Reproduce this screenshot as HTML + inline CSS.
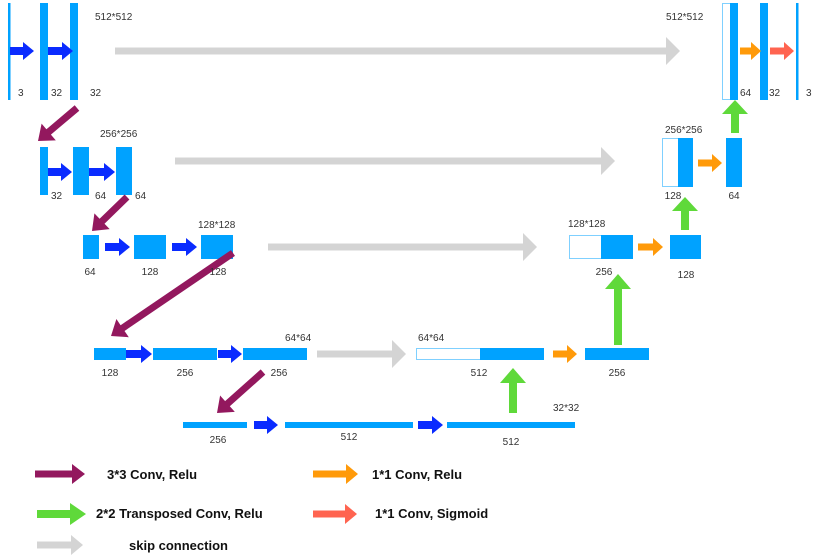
<!DOCTYPE html>
<html><head><meta charset="utf-8"><style>
html,body{margin:0;padding:0;background:#fff;}
svg{display:block;}
text{font-family:"Liberation Sans",sans-serif;fill:#333;font-size:10px;}
.t{font-size:10px;}
.l{font-size:13px;font-weight:bold;fill:#111;}
</style></head><body>
<svg id="s" width="815" height="558" viewBox="0 0 815 558" xmlns="http://www.w3.org/2000/svg">
<g id="boxes" fill="#00a2ff">
<!-- row1 -->
<rect x="8" y="3" width="2.5" height="97"/>
<rect x="40" y="3" width="8" height="97"/>
<rect x="70" y="3" width="8" height="97"/>
<rect x="722.5" y="3.5" width="8" height="96" fill="#fff" stroke="#7fd0ff" stroke-width="1"/>
<rect x="730" y="3" width="8" height="97"/>
<rect x="760" y="3" width="8" height="97"/>
<rect x="796" y="3" width="2.5" height="97"/>
<!-- row2 -->
<rect x="40" y="147" width="8" height="48"/>
<rect x="73" y="147" width="16" height="48"/>
<rect x="116" y="147" width="16" height="48"/>
<rect x="662.5" y="138.5" width="16" height="48" fill="#fff" stroke="#7fd0ff" stroke-width="1"/>
<rect x="678" y="138" width="15" height="49"/>
<rect x="726" y="138" width="16" height="49"/>
<!-- row3 -->
<rect x="83" y="235" width="16" height="24"/>
<rect x="134" y="235" width="32" height="24"/>
<rect x="201" y="235" width="32" height="24"/>
<rect x="569.5" y="235.5" width="32" height="23" fill="#fff" stroke="#7fd0ff" stroke-width="1"/>
<rect x="601" y="235" width="32" height="24"/>
<rect x="670" y="235" width="31" height="24"/>
<!-- row4 -->
<rect x="94" y="348" width="32" height="12"/>
<rect x="153" y="348" width="64" height="12"/>
<rect x="243" y="348" width="64" height="12"/>
<rect x="416.5" y="348.5" width="64" height="11" fill="#fff" stroke="#7fd0ff" stroke-width="1"/>
<rect x="480" y="348" width="64" height="12"/>
<rect x="585" y="348" width="64" height="12"/>
<!-- row5 -->
<rect x="183" y="422" width="64" height="6"/>
<rect x="285" y="422" width="128" height="6"/>
<rect x="447" y="422" width="128" height="6"/>
</g>
<g id="arrows"></g>
<g>
<text x="95" y="20" class="t">512*512</text>
<text x="18" y="96">3</text><text x="51" y="96">32</text><text x="90" y="96">32</text>
<text x="666" y="20">512*512</text>
<text x="740" y="96">64</text><text x="769" y="96">32</text><text x="806" y="96">3</text>
<text x="100" y="137">256*256</text>
<text x="51" y="199">32</text><text x="95" y="199">64</text><text x="135" y="199">64</text>
<text x="665" y="133">256*256</text>
<text x="673" y="199" text-anchor="middle">128</text><text x="734" y="199" text-anchor="middle">64</text>
<text x="198" y="228">128*128</text>
<text x="90" y="275" text-anchor="middle">64</text><text x="150" y="275" text-anchor="middle">128</text><text x="218" y="275" text-anchor="middle">128</text>
<text x="568" y="227">128*128</text>
<text x="604" y="275" text-anchor="middle">256</text><text x="686" y="278" text-anchor="middle">128</text>
<text x="285" y="341">64*64</text><text x="418" y="341">64*64</text>
<text x="110" y="376" text-anchor="middle">128</text><text x="185" y="376" text-anchor="middle">256</text><text x="279" y="376" text-anchor="middle">256</text>
<text x="479" y="376" text-anchor="middle">512</text><text x="617" y="376" text-anchor="middle">256</text>
<text x="553" y="411">32*32</text>
<text x="218" y="443" text-anchor="middle">256</text><text x="349" y="440" text-anchor="middle">512</text><text x="511" y="445" text-anchor="middle">512</text>
<text x="107" y="479" class="l">3*3 Conv, Relu</text>
<text x="96" y="518" class="l">2*2 Transposed Conv, Relu</text>
<text x="129" y="550" class="l">skip connection</text>
<text x="372" y="479" class="l">1*1 Conv, Relu</text>
<text x="375" y="518" class="l">1*1 Conv, Sigmoid</text>
</g>
</svg>
<script>
var g=document.getElementById('arrows');
function A(x1,y1,x2,y2,sw,hw,hl,c){
 var dx=x2-x1,dy=y2-y1,L=Math.sqrt(dx*dx+dy*dy),ux=dx/L,uy=dy/L,px=-uy,py=ux;
 var bx=x2-ux*hl,by=y2-uy*hl;
 var pts=[[x1+px*sw/2,y1+py*sw/2],[bx+px*sw/2,by+py*sw/2],[bx+px*hw/2,by+py*hw/2],[x2,y2],[bx-px*hw/2,by-py*hw/2],[bx-px*sw/2,by-py*sw/2],[x1-px*sw/2,y1-py*sw/2]];
 var p=document.createElementNS('http://www.w3.org/2000/svg','polygon');
 p.setAttribute('points',pts.map(function(q){return q[0].toFixed(1)+','+q[1].toFixed(1)}).join(' '));
 p.setAttribute('fill',c);g.appendChild(p);
}
var B='#0a2bff',P='#93185e',G='#5fd93a',GR='#d4d4d4',O='#ff9a0a',R='#ff6450';
// blue
A(10,51,34,51,8,18,11,B);A(48,51,73,51,8,18,11,B);
A(48,172,72,172,8,18,11,B);A(89,172,115,172,8,18,11,B);
A(105,247,130,247,8,18,11,B);A(172,247,197,247,8,18,11,B);
A(126,354,152,354,8,18,11,B);A(218,354,242,354,8,18,11,B);
A(254,425,278,425,8,18,11,B);A(418,425,443,425,8,18,11,B);
// gray
A(115,51,680,51,7,28,14,GR);A(175,161,615,161,7,28,14,GR);
A(268,247,537,247,7,28,14,GR);A(317,354,406,354,7,28,14,GR);
A(37,545,83,545,7,20,12,GR);
// purple
A(77,108,38,141,7,22,14,P);A(127,197,92,231,7,22,14,P);
A(233,253,111,336,7,22,14,P);A(263,372,217,413,7,22,14,P);
A(35,474,85,474,7,20,13,P);
// green
A(735,133,735,100,8,26,14,G);A(685,230,685,197,8,26,14,G);
A(618,345,618,274,8,26,15,G);A(513,413,513,368,8,26,15,G);
A(37,514,86,514,8,22,16,G);
// orange
A(740,51,761,51,7,18,10,O);A(698,163,722,163,7,18,10,O);
A(638,247,663,247,7,18,10,O);A(553,354,577,354,7,18,10,O);
A(313,474,358,474,7,20,12,O);
// red
A(770,51,794,51,7,18,10,R);A(313,514,357,514,7,20,12,R);
</script>
</body></html>
